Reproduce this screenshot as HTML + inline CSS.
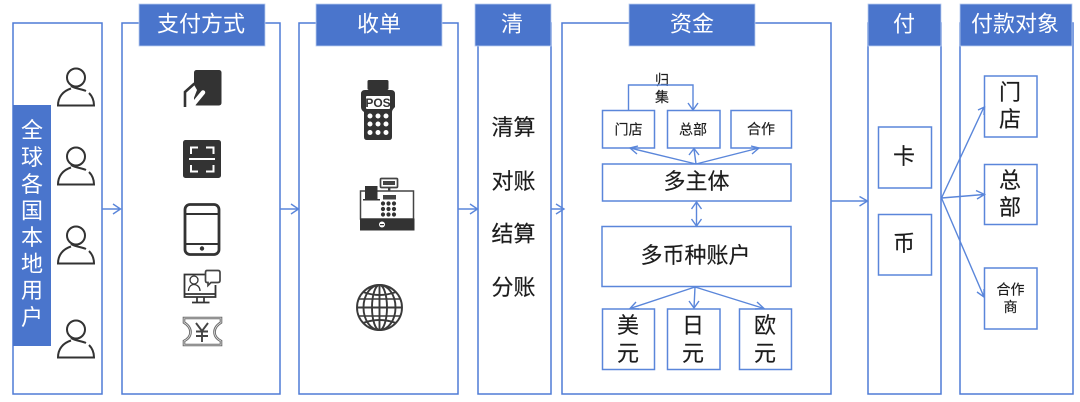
<!DOCTYPE html>
<html lang="zh">
<head>
<meta charset="utf-8">
<style>
html,body{margin:0;padding:0;background:#fff;width:1080px;height:402px;overflow:hidden}
svg{display:block;filter:blur(.35px)}
text{font-family:"Liberation Sans","Noto Sans CJK SC",sans-serif;text-anchor:middle}
.p{fill:#fff;stroke:#4f7bd6;stroke-width:1.5}
.h{fill:#4a75cc;stroke:#b9cdf0;stroke-width:.8}
.b{fill:#fff;stroke:#5a86da;stroke-width:1.5}
.w{fill:#fff}
.k{fill:#1c1c1c;stroke:#1c1c1c;stroke-width:.15}
.l{fill:none;stroke:#5a86da;stroke-width:1.4}
.ic{fill:#333}
.o{fill:none;stroke:#333}
</style>
</head>
<body>
<svg width="1080" height="402" viewBox="0 0 1080 402" xmlns="http://www.w3.org/2000/svg">
<defs>
<g id="person">
<circle cx="0" cy="-24.5" r="9" class="o" stroke-width="2"/>
<path d="M-5-16 C0-13 6-13 10-11 M13-9 C16-6 18-2 18 3.500 H-18 C-18-5-13-11-5-13.500" class="o" stroke-width="2"/>
</g>
</defs>

<!-- panels -->
<rect class="p" x="13" y="23" width="89" height="371"/>
<rect class="p" x="122" y="23" width="158" height="371"/>
<rect class="p" x="299" y="23" width="159" height="371"/>
<rect class="p" x="478" y="23" width="73" height="371"/>
<rect class="p" x="562" y="23" width="269" height="371"/>
<rect class="p" x="868" y="23" width="73" height="371"/>
<rect class="p" x="960" y="23" width="113" height="371"/>

<!-- headers -->
<rect class="h" x="139" y="4" width="126" height="42"/>
<rect class="h" x="316" y="4" width="126" height="42"/>
<rect class="h" x="475" y="4" width="76" height="42"/>
<rect class="h" x="629" y="4" width="126" height="42"/>
<rect class="h" x="868" y="4" width="73" height="42"/>
<rect class="h" x="960" y="4" width="112" height="42"/>
<g class="w" font-size="22">
<text x="201" y="31.500">支付方式</text>
<text x="379" y="31.500">收单</text>
<text x="512" y="31.500">清</text>
<text x="692" y="31.500">资金</text>
<text x="904" y="31.500">付</text>
<text x="1015" y="31.500">付款对象</text>
</g>

<!-- left users -->
<rect x="13" y="105" width="38" height="241" fill="#4a75cc"/>
<g class="w" font-size="22">
<text x="32" y="138">全</text>
<text x="32" y="165">球</text>
<text x="32" y="192">各</text>
<text x="32" y="218.500">国</text>
<text x="32" y="245">本</text>
<text x="32" y="271.500">地</text>
<text x="32" y="298">用</text>
<text x="32" y="325">户</text>
</g>
<use href="#person" x="76" y="102"/>
<use href="#person" x="76" y="181"/>
<use href="#person" x="76" y="260"/>
<use href="#person" x="76" y="354"/>

<!-- pay icons: hand on card -->
<rect class="ic" x="194" y="70" width="27.500" height="35.500" rx="2.500"/>
<path d="M193 83 L197 90 L190 108 H183 V90 Z" fill="#fff"/>
<path d="M185 107 V92 L194.500 83.500" class="o" stroke-width="2.600"/>
<path d="M191.500 106.500 L203 92.500" fill="none" stroke="#fff" stroke-width="4.500" stroke-linecap="round"/>
<rect class="ic" x="183" y="140" width="38" height="38" rx="2.500"/>
<path d="M191 154 V147.500 H198 M206 147.500 H213.500 V154 M191 165 V171.500 H198 M206 171.500 H213.500 V165 M189 159 H215" fill="none" stroke="#fff" stroke-width="2"/>
<rect x="185" y="204.500" width="34" height="50" rx="5" class="o" stroke-width="2.800"/>
<path d="M185 214 H219 M185 244 H219" class="o" stroke-width="2"/>
<circle cx="202" cy="248.500" r="2.200" class="ic"/>
<!-- monitor -->
<path d="M205 274.500 H184.500 V297 H215.500 V285" class="o" stroke-width="1.800"/>
<path d="M184.500 294 H215.500 M197 297 V302 M204 297 V302 M192 302.500 H209.500" class="o" stroke-width="1.700"/>
<circle cx="194" cy="280" r="4" class="o" stroke-width="1.300"/>
<path d="M188.500 291 C188.500 287 191 284.500 194 284.500 C197 284.500 200 287 200 291" class="o" stroke-width="1.300"/>
<path d="M207 270.500 H218 Q220 270.500 220 272.500 V280.500 Q220 282.500 218 282.500 H211 L208 285.500 V282.500 H207 Q205.500 282.500 205.500 280.500 V272.500 Q205.500 270.500 207 270.500 Z" fill="#fff" stroke="#444" stroke-width="1.700"/>
<!-- voucher -->
<path d="M184 318 H221 V322.500 C217 325 214.500 328 214.500 332 C214.500 336 217 339 221 341 V345 H184 V341 C188 339 190.500 336 190.500 332 C190.500 328 188 325 184 322.500 Z" fill="#fff" stroke="#666" stroke-width="2.600"/>
<path d="M184 318 H221 V322.500 C217 325 214.500 328 214.500 332 C214.500 336 217 339 221 341 V345 H184 V341 C188 339 190.500 336 190.500 332 C190.500 328 188 325 184 322.500 Z" fill="none" stroke="#ddd" stroke-width=".8"/>
<path d="M196 323 L202 331 L208 323 M202 331 V342 M196 331.500 H208 M196 336 H208" fill="none" stroke="#444" stroke-width="1.900"/>

<!-- POS -->
<rect class="ic" x="367.500" y="80" width="21" height="10" rx="1.500"/>
<path d="M365 90 H391 Q395 90 395 94 V107 Q392 110 392 112 V137 Q392 140 389 140 H367 Q364 140 364 137 V112 Q361 110 361 107 V94 Q361 90 365 90 Z" class="ic"/>
<rect x="366" y="96" width="24" height="13" rx="1" fill="#fff"/>
<text x="378" y="107" font-size="12" font-weight="bold" fill="#333">POS</text>
<g fill="#fff">
<circle cx="370" cy="116" r="2.500"/><circle cx="378" cy="116" r="2.500"/><circle cx="386" cy="116" r="2.500"/>
<circle cx="370" cy="124" r="2.500"/><circle cx="378" cy="124" r="2.500"/><circle cx="386" cy="124" r="2.500"/>
<circle cx="370" cy="132.500" r="2.500"/><circle cx="378" cy="132.500" r="2.500"/><circle cx="386" cy="132.500" r="2.500"/>
</g>

<!-- register -->
<rect x="360.500" y="191" width="53" height="28" fill="#fff" stroke="#444" stroke-width="1.500"/>
<rect x="360" y="218.500" width="54.500" height="12" fill="#333"/>
<circle cx="382" cy="224.500" r="3" fill="#fff"/><rect x="380" y="224" width="4" height="1.200" fill="#333"/>
<rect x="365" y="186" width="12.500" height="14" fill="#333"/>
<rect x="363" y="199" width="17" height="1.500" fill="#333"/>
<rect x="380.500" y="178.500" width="17" height="9" rx="1" fill="#fff" stroke="#444" stroke-width="1.700"/>
<rect x="383" y="181" width="12" height="4" fill="#444"/>
<rect x="388" y="187" width="2.400" height="4" fill="#444"/>
<rect x="383" y="195" width="13" height="4.500" fill="#444"/>
<g fill="#333">
<circle cx="383" cy="203.500" r="2.100"/><circle cx="388.500" cy="203.500" r="2.100"/><circle cx="394" cy="203.500" r="2.100"/>
<circle cx="383" cy="209" r="2.100"/><circle cx="388.500" cy="209" r="2.100"/><circle cx="394" cy="209" r="2.100"/>
<circle cx="383" cy="214.500" r="2.100"/><circle cx="388.500" cy="214.500" r="2.100"/><circle cx="394" cy="214.500" r="2.100"/>
</g>

<!-- globe -->
<g fill="none" stroke="#3a3a3a" stroke-width="1.900">
<circle cx="379.500" cy="307.500" r="22.500"/>
<ellipse cx="379.500" cy="307.500" rx="7.500" ry="22.500"/>
<ellipse cx="379.500" cy="307.500" rx="16" ry="22.500"/>
<path d="M357 307.500 H402 M379.500 285 V330"/>
<path d="M363 292 Q379.500 298 396 292 M363 323 Q379.500 317 396 323"/>
<path d="M359 299 H400 M359 316 H400" stroke-width="1.600"/>
</g>

<!-- settlement -->
<g class="k" font-size="22">
<text x="513.500" y="135">清算</text>
<text x="513.500" y="189">对账</text>
<text x="513.500" y="241.500">结算</text>
<text x="513.500" y="295">分账</text>
</g>

<!-- funds boxes -->
<rect class="b" x="602.500" y="110.500" width="52" height="37.500"/>
<rect class="b" x="667.500" y="110.500" width="52.500" height="37.500"/>
<rect class="b" x="731" y="110.500" width="60.500" height="37.500"/>
<rect class="b" x="602.500" y="164" width="188.500" height="37"/>
<rect class="b" x="602" y="226.500" width="189" height="60"/>
<rect class="b" x="602.500" y="309" width="52" height="60.500"/>
<rect class="b" x="667.500" y="309" width="52.500" height="60.500"/>
<rect class="b" x="739.500" y="309" width="52" height="60.500"/>

<g class="k">
<text x="628.500" y="134.500" font-size="14">门店</text>
<text x="693" y="134.500" font-size="14">总部</text>
<text x="761" y="134" font-size="14">合作</text>
<text x="696.500" y="189" font-size="22">多主体</text>
<text x="695.500" y="263" font-size="22">多币种账户</text>
<text x="628" y="333" font-size="22">美</text>
<text x="628" y="361" font-size="22">元</text>
<text x="693" y="333" font-size="22">日</text>
<text x="693" y="361" font-size="22">元</text>
<text x="765" y="333" font-size="22">欧</text>
<text x="765" y="361" font-size="22">元</text>
<text x="662" y="85" font-size="14">归</text>
<text x="662" y="102" font-size="14">集</text>
</g>

<!-- funds connectors -->
<g class="l">
<path d="M628.500 110 V85 H693 V109"/>
<path d="M688 103 L693 110 L698 103"/>
<path d="M696 164 L630 148 M696 164 L694 149 M696 164 L759 148"/>
<path d="M638 146 L630 148 L637 154"/>
<path d="M689 155 L694 148.500 L699 155"/>
<path d="M751 146 L759 148 L752 154"/>
<path d="M696.500 202 V226"/>
<path d="M691.500 209 L696.500 202 L701.500 209 M691.500 219 L696.500 226 L701.500 219"/>
<path d="M695 287 L630 308.500 M695 287 L694 308 M695 287 L764 308.500"/>
<path d="M636 302 L630 308.500 L639 309"/>
<path d="M689 301 L694 308 L699 301"/>
<path d="M757 302 L764 308.500 L755 309"/>
</g>

<!-- pay boxes -->
<rect class="b" x="878.500" y="127" width="53" height="61"/>
<rect class="b" x="878.500" y="214.500" width="53" height="60.500"/>
<g class="k" font-size="22">
<text x="904" y="164">卡</text>
<text x="904" y="251">币</text>
</g>

<!-- target boxes -->
<rect class="b" x="984.500" y="76" width="52.500" height="61"/>
<rect class="b" x="984.500" y="164.500" width="52.500" height="60"/>
<rect class="b" x="984.500" y="268" width="52.500" height="61"/>
<g class="k">
<text x="1010" y="100" font-size="22">门</text>
<text x="1010" y="127" font-size="22">店</text>
<text x="1010" y="188" font-size="22">总</text>
<text x="1010" y="215" font-size="22">部</text>
<text x="1010.500" y="294.500" font-size="14">合作</text>
<text x="1010.500" y="312" font-size="14">商</text>
</g>

<!-- flow connectors -->
<g class="l">
<path d="M102 209 H120 M113 204 L120.500 209 L113 214"/>
<path d="M280 209 H298 M291 204 L298.500 209 L291 214"/>
<path d="M458 209 H477 M470 204 L477.500 209 L470 214"/>
<path d="M551 209 H564 M556 204 L564 209 L556 214"/>
<path d="M831 201 H867 M859.500 196.500 L867.500 201 L859.500 206"/>
<path d="M941.500 198 L984 107 M978 110 L984.500 107 L984 115"/>
<path d="M941.500 198 L984 194.500 M976 190.500 L984.500 194.500 L977 199"/>
<path d="M941.500 198 L984 297 M977 292 L984 297 L984 289"/>
</g>
</svg>
</body>
</html>
